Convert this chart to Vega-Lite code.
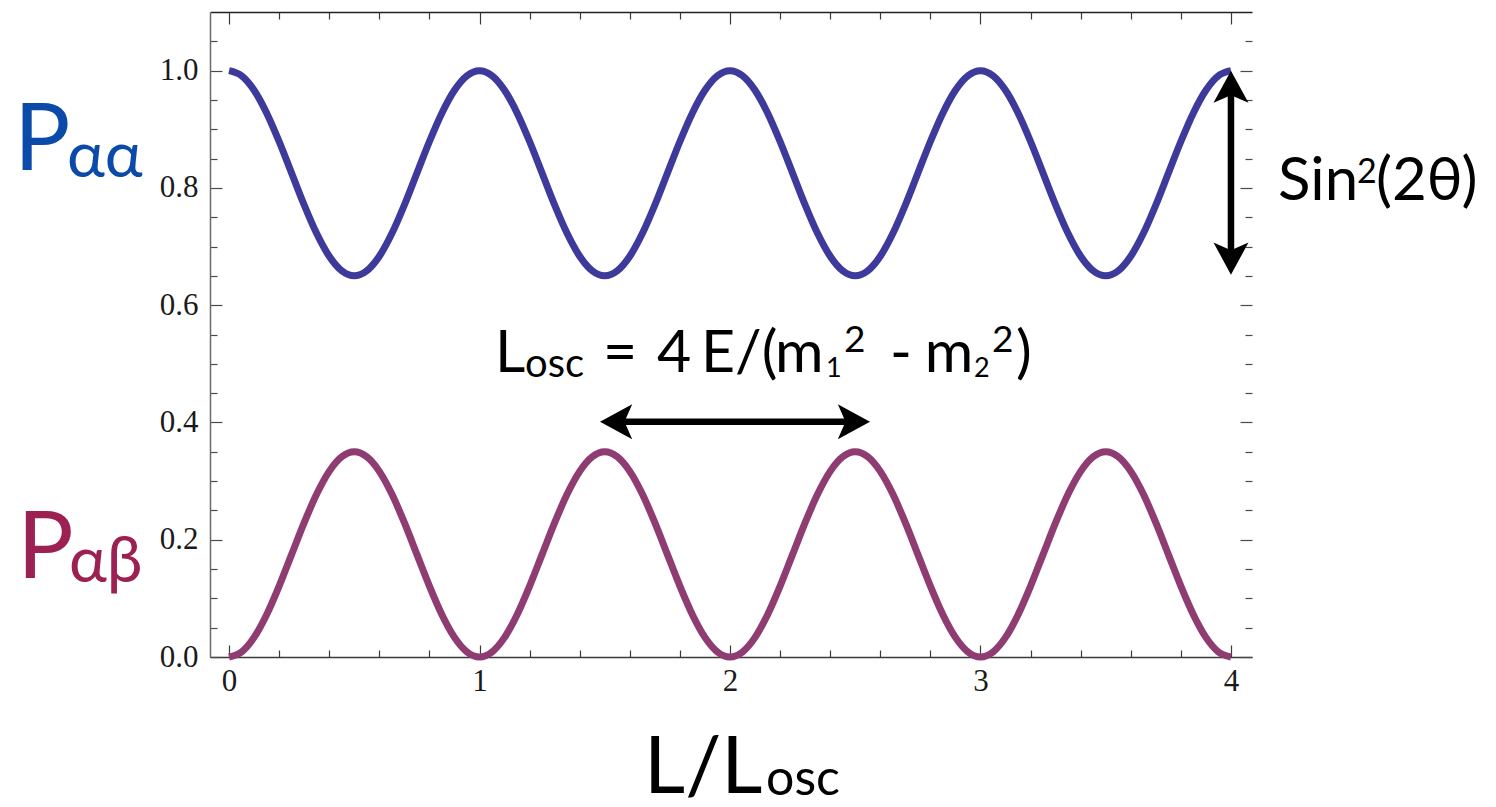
{
  "$schema": "https://vega.github.io/schema/vega-lite/v6.json",
  "width": 1042,
  "height": 645,
  "autosize": {"type": "none"},
  "padding": {"left": 210, "top": 12, "right": 244, "bottom": 150},
  "background": "white",
  "config": {"view": {"stroke": null}},
  "datasets": {
    "curve": [
      {"x": 0, "pab": 0, "paa": 1},
      {"x": 0.05, "pab": 0.0086, "paa": 0.9914},
      {"x": 0.1, "pab": 0.0334, "paa": 0.9666},
      {"x": 0.15, "pab": 0.0721, "paa": 0.9279},
      {"x": 0.2, "pab": 0.1209, "paa": 0.8791},
      {"x": 0.25, "pab": 0.175, "paa": 0.825},
      {"x": 0.3, "pab": 0.2291, "paa": 0.7709},
      {"x": 0.35, "pab": 0.2779, "paa": 0.7221},
      {"x": 0.4, "pab": 0.3166, "paa": 0.6834},
      {"x": 0.45, "pab": 0.3414, "paa": 0.6586},
      {"x": 0.5, "pab": 0.35, "paa": 0.65},
      {"x": 0.55, "pab": 0.3414, "paa": 0.6586},
      {"x": 0.6, "pab": 0.3166, "paa": 0.6834},
      {"x": 0.65, "pab": 0.2779, "paa": 0.7221},
      {"x": 0.7, "pab": 0.2291, "paa": 0.7709},
      {"x": 0.75, "pab": 0.175, "paa": 0.825},
      {"x": 0.8, "pab": 0.1209, "paa": 0.8791},
      {"x": 0.85, "pab": 0.0721, "paa": 0.9279},
      {"x": 0.9, "pab": 0.0334, "paa": 0.9666},
      {"x": 0.95, "pab": 0.0086, "paa": 0.9914},
      {"x": 1, "pab": 0, "paa": 1},
      {"x": 1.05, "pab": 0.0086, "paa": 0.9914},
      {"x": 1.1, "pab": 0.0334, "paa": 0.9666},
      {"x": 1.15, "pab": 0.0721, "paa": 0.9279},
      {"x": 1.2, "pab": 0.1209, "paa": 0.8791},
      {"x": 1.25, "pab": 0.175, "paa": 0.825},
      {"x": 1.3, "pab": 0.2291, "paa": 0.7709},
      {"x": 1.35, "pab": 0.2779, "paa": 0.7221},
      {"x": 1.4, "pab": 0.3166, "paa": 0.6834},
      {"x": 1.45, "pab": 0.3414, "paa": 0.6586},
      {"x": 1.5, "pab": 0.35, "paa": 0.65},
      {"x": 1.55, "pab": 0.3414, "paa": 0.6586},
      {"x": 1.6, "pab": 0.3166, "paa": 0.6834},
      {"x": 1.65, "pab": 0.2779, "paa": 0.7221},
      {"x": 1.7, "pab": 0.2291, "paa": 0.7709},
      {"x": 1.75, "pab": 0.175, "paa": 0.825},
      {"x": 1.8, "pab": 0.1209, "paa": 0.8791},
      {"x": 1.85, "pab": 0.0721, "paa": 0.9279},
      {"x": 1.9, "pab": 0.0334, "paa": 0.9666},
      {"x": 1.95, "pab": 0.0086, "paa": 0.9914},
      {"x": 2, "pab": 0, "paa": 1},
      {"x": 2.05, "pab": 0.0086, "paa": 0.9914},
      {"x": 2.1, "pab": 0.0334, "paa": 0.9666},
      {"x": 2.15, "pab": 0.0721, "paa": 0.9279},
      {"x": 2.2, "pab": 0.1209, "paa": 0.8791},
      {"x": 2.25, "pab": 0.175, "paa": 0.825},
      {"x": 2.3, "pab": 0.2291, "paa": 0.7709},
      {"x": 2.35, "pab": 0.2779, "paa": 0.7221},
      {"x": 2.4, "pab": 0.3166, "paa": 0.6834},
      {"x": 2.45, "pab": 0.3414, "paa": 0.6586},
      {"x": 2.5, "pab": 0.35, "paa": 0.65},
      {"x": 2.55, "pab": 0.3414, "paa": 0.6586},
      {"x": 2.6, "pab": 0.3166, "paa": 0.6834},
      {"x": 2.65, "pab": 0.2779, "paa": 0.7221},
      {"x": 2.7, "pab": 0.2291, "paa": 0.7709},
      {"x": 2.75, "pab": 0.175, "paa": 0.825},
      {"x": 2.8, "pab": 0.1209, "paa": 0.8791},
      {"x": 2.85, "pab": 0.0721, "paa": 0.9279},
      {"x": 2.9, "pab": 0.0334, "paa": 0.9666},
      {"x": 2.95, "pab": 0.0086, "paa": 0.9914},
      {"x": 3, "pab": 0, "paa": 1},
      {"x": 3.05, "pab": 0.0086, "paa": 0.9914},
      {"x": 3.1, "pab": 0.0334, "paa": 0.9666},
      {"x": 3.15, "pab": 0.0721, "paa": 0.9279},
      {"x": 3.2, "pab": 0.1209, "paa": 0.8791},
      {"x": 3.25, "pab": 0.175, "paa": 0.825},
      {"x": 3.3, "pab": 0.2291, "paa": 0.7709},
      {"x": 3.35, "pab": 0.2779, "paa": 0.7221},
      {"x": 3.4, "pab": 0.3166, "paa": 0.6834},
      {"x": 3.45, "pab": 0.3414, "paa": 0.6586},
      {"x": 3.5, "pab": 0.35, "paa": 0.65},
      {"x": 3.55, "pab": 0.3414, "paa": 0.6586},
      {"x": 3.6, "pab": 0.3166, "paa": 0.6834},
      {"x": 3.65, "pab": 0.2779, "paa": 0.7221},
      {"x": 3.7, "pab": 0.2291, "paa": 0.7709},
      {"x": 3.75, "pab": 0.175, "paa": 0.825},
      {"x": 3.8, "pab": 0.1209, "paa": 0.8791},
      {"x": 3.85, "pab": 0.0721, "paa": 0.9279},
      {"x": 3.9, "pab": 0.0334, "paa": 0.9666},
      {"x": 3.95, "pab": 0.0086, "paa": 0.9914},
      {"x": 4, "pab": 0, "paa": 1}
    ],
    "labels": [
      {"text": "P", "x": -0.858, "y": 0.831, "role": "paaBig"},
      {"text": "αα", "x": -0.647, "y": 0.819, "role": "paaSub"},
      {"text": "P", "x": -0.846, "y": 0.1348, "role": "pabBig"},
      {"text": "αβ", "x": -0.639, "y": 0.128, "role": "pabSub"},
      {"text": "Sin", "x": 4.188, "y": 0.7799, "role": "sinMain"},
      {"text": "2", "x": 4.503, "y": 0.8089, "role": "annSupSmall"},
      {"text": "(2θ)", "x": 4.579, "y": 0.7799, "role": "sinMain"},
      {"text": "L", "x": 1.062, "y": 0.4863, "role": "annMain"},
      {"text": "osc", "x": 1.182, "y": 0.4778, "role": "annOsc"},
      {"text": "=", "x": 1.493, "y": 0.4863, "role": "annMain"},
      {"text": "4", "x": 1.709, "y": 0.4863, "role": "annMain"},
      {"text": "E/(", "x": 1.884, "y": 0.4863, "role": "annMain"},
      {"text": "m", "x": 2.18, "y": 0.4863, "role": "annMain"},
      {"text": "1", "x": 2.383, "y": 0.4778, "role": "annSub"},
      {"text": "2", "x": 2.455, "y": 0.5205, "role": "annSup"},
      {"text": "-", "x": 2.639, "y": 0.4863, "role": "annMain"},
      {"text": "m", "x": 2.778, "y": 0.4863, "role": "annMain"},
      {"text": "2", "x": 2.974, "y": 0.4778, "role": "annSub"},
      {"text": "2", "x": 3.046, "y": 0.5205, "role": "annSup"},
      {"text": ")", "x": 3.142, "y": 0.4863, "role": "annMain"},
      {"text": "L/L", "x": 1.657, "y": -0.232, "role": "axisBig"},
      {"text": "osc", "x": 2.144, "y": -0.2355, "role": "axisOsc"}
    ],
    "shafts": [
      {"x": 4, "y": 0.959, "x2": 4, "y2": 0.693},
      {"x": 1.577, "y": 0.401, "x2": 2.463, "y2": 0.401}
    ],
    "heads": [
      {"x": 4, "y": 1.0, "dir": "up"},
      {"x": 4, "y": 0.652, "dir": "down"},
      {"x": 1.481, "y": 0.401, "dir": "left"},
      {"x": 2.559, "y": 0.401, "dir": "right"}
    ]
  },
  "resolve": {"axis": {"x": "independent", "y": "independent"}},
  "layer": [
    {
      "data": {"name": "curve"},
      "mark": {"type": "line", "interpolate": "monotone", "strokeWidth": 7, "color": "#8f3c72"},
      "encoding": {
        "x": {"field": "x", "type": "quantitative",
          "scale": {"domain": [-0.076, 4.084], "nice": false, "zero": false},
          "axis": {"orient": "bottom", "title": null, "grid": false,
            "values": [0, 0.2, 0.4, 0.6, 0.8, 1, 1.2, 1.4, 1.6, 1.8, 2, 2.2, 2.4, 2.6, 2.8, 3, 3.2, 3.4, 3.6, 3.8, 4],
            "domainColor": "#3a3a3a", "domainWidth": 1.5,
            "tickColor": "#3a3a3a", "tickWidth": 1.2,
            "tickSize": {"condition": {"test": "datum.value % 1 === 0", "value": -12}, "value": -7},
            "labelExpr": "datum.value % 1 === 0 ? format(datum.value, 'd') : ''",
            "labelFont": "Liberation Serif", "labelFontSize": 31, "labelColor": "#1a1a1a",
            "labelPadding": 21, "labelOverlap": false, "labelFlush": false, "labelBound": false}},
        "y": {"field": "pab", "type": "quantitative",
          "scale": {"domain": [0, 1.1], "nice": false, "zero": false},
          "axis": {"orient": "left", "title": null, "grid": false,
            "values": [0, 0.05, 0.1, 0.15, 0.2, 0.25, 0.3, 0.35, 0.4, 0.45, 0.5, 0.55, 0.6, 0.65, 0.7, 0.75, 0.8, 0.85, 0.9, 0.95, 1, 1.05],
            "domainColor": "#6a6a6a", "domainWidth": 1.5,
            "tickColor": "#4a4a4a", "tickWidth": 1.2,
            "tickSize": {"condition": {"test": "abs(datum.value * 5 - round(datum.value * 5)) < 1e-6", "value": -12}, "value": -7},
            "labelExpr": "abs(datum.value * 5 - round(datum.value * 5)) < 1e-6 ? format(datum.value, '.1f') : ''",
            "labelFont": "Liberation Serif", "labelFontSize": 31, "labelColor": "#1a1a1a",
            "labelPadding": 24, "labelOverlap": false, "labelFlush": false, "labelBound": false}}
      }
    },
    {
      "data": {"name": "curve"},
      "mark": {"type": "line", "interpolate": "monotone", "strokeWidth": 7, "color": "#3d3a9c"},
      "encoding": {
        "x": {"field": "x", "type": "quantitative",
          "scale": {"domain": [-0.076, 4.084], "nice": false, "zero": false},
          "axis": {"orient": "top", "title": null, "grid": false, "labels": false,
            "values": [0, 0.2, 0.4, 0.6, 0.8, 1, 1.2, 1.4, 1.6, 1.8, 2, 2.2, 2.4, 2.6, 2.8, 3, 3.2, 3.4, 3.6, 3.8, 4],
            "domainColor": "#222222", "domainWidth": 1.5,
            "tickColor": "#3a3a3a", "tickWidth": 1.2,
            "tickSize": {"condition": {"test": "datum.value % 1 === 0", "value": -12}, "value": -7}}},
        "y": {"field": "paa", "type": "quantitative",
          "scale": {"domain": [0, 1.1], "nice": false, "zero": false},
          "axis": {"orient": "right", "title": null, "grid": false, "labels": false, "domain": false,
            "values": [0, 0.05, 0.1, 0.15, 0.2, 0.25, 0.3, 0.35, 0.4, 0.45, 0.5, 0.55, 0.6, 0.65, 0.7, 0.75, 0.8, 0.85, 0.9, 0.95, 1, 1.05],
            "tickColor": "#4a4a4a", "tickWidth": 1.2,
            "tickSize": {"condition": {"test": "abs(datum.value * 5 - round(datum.value * 5)) < 1e-6", "value": -12}, "value": -7}}}
      }
    },
    {
      "data": {"name": "shafts"},
      "mark": {"type": "rule", "strokeWidth": 6.5, "color": "black"},
      "encoding": {
        "x": {"field": "x", "type": "quantitative", "scale": {"domain": [-0.076, 4.084], "nice": false, "zero": false}, "axis": null},
        "y": {"field": "y", "type": "quantitative", "scale": {"domain": [0, 1.1], "nice": false, "zero": false}, "axis": null},
        "x2": {"field": "x2"},
        "y2": {"field": "y2"}
      }
    },
    {
      "data": {"name": "heads"},
      "transform": [{"filter": "datum.dir === 'up'"}],
      "mark": {"type": "point", "filled": true, "color": "black", "opacity": 1, "size": 4900, "shape": "M0,0 L0.5,0.92 L0,0.7 L-0.5,0.92 Z"},
      "encoding": {
        "x": {"field": "x", "type": "quantitative", "scale": {"domain": [-0.076, 4.084], "nice": false, "zero": false}, "axis": null},
        "y": {"field": "y", "type": "quantitative", "scale": {"domain": [0, 1.1], "nice": false, "zero": false}, "axis": null}
      }
    },
    {
      "data": {"name": "heads"},
      "transform": [{"filter": "datum.dir === 'down'"}],
      "mark": {"type": "point", "filled": true, "color": "black", "opacity": 1, "size": 4900, "shape": "M0,0 L0.5,-0.92 L0,-0.7 L-0.5,-0.92 Z"},
      "encoding": {
        "x": {"field": "x", "type": "quantitative", "scale": {"domain": [-0.076, 4.084], "nice": false, "zero": false}, "axis": null},
        "y": {"field": "y", "type": "quantitative", "scale": {"domain": [0, 1.1], "nice": false, "zero": false}, "axis": null}
      }
    },
    {
      "data": {"name": "heads"},
      "transform": [{"filter": "datum.dir === 'left'"}],
      "mark": {"type": "point", "filled": true, "color": "black", "opacity": 1, "size": 4900, "shape": "M0,0 L0.92,-0.5 L0.7,0 L0.92,0.5 Z"},
      "encoding": {
        "x": {"field": "x", "type": "quantitative", "scale": {"domain": [-0.076, 4.084], "nice": false, "zero": false}, "axis": null},
        "y": {"field": "y", "type": "quantitative", "scale": {"domain": [0, 1.1], "nice": false, "zero": false}, "axis": null}
      }
    },
    {
      "data": {"name": "heads"},
      "transform": [{"filter": "datum.dir === 'right'"}],
      "mark": {"type": "point", "filled": true, "color": "black", "opacity": 1, "size": 4900, "shape": "M0,0 L-0.92,-0.5 L-0.7,0 L-0.92,0.5 Z"},
      "encoding": {
        "x": {"field": "x", "type": "quantitative", "scale": {"domain": [-0.076, 4.084], "nice": false, "zero": false}, "axis": null},
        "y": {"field": "y", "type": "quantitative", "scale": {"domain": [0, 1.1], "nice": false, "zero": false}, "axis": null}
      }
    },
    {
      "data": {"name": "labels"},
      "transform": [{"filter": "datum.role === 'paaBig'"}],
      "mark": {"type": "text", "align": "left", "baseline": "alphabetic", "font": "Lato", "fontSize": 94, "color": "#0b4aa8"},
      "encoding": {
        "x": {"field": "x", "type": "quantitative", "scale": {"domain": [-0.076, 4.084], "nice": false, "zero": false}, "axis": null},
        "y": {"field": "y", "type": "quantitative", "scale": {"domain": [0, 1.1], "nice": false, "zero": false}, "axis": null},
        "text": {"field": "text"}
      }
    },
    {
      "data": {"name": "labels"},
      "transform": [{"filter": "datum.role === 'paaSub'"}],
      "mark": {"type": "text", "align": "left", "baseline": "alphabetic", "font": "Lato", "fontSize": 64, "color": "#0b4aa8"},
      "encoding": {
        "x": {"field": "x", "type": "quantitative", "scale": {"domain": [-0.076, 4.084], "nice": false, "zero": false}, "axis": null},
        "y": {"field": "y", "type": "quantitative", "scale": {"domain": [0, 1.1], "nice": false, "zero": false}, "axis": null},
        "text": {"field": "text"}
      }
    },
    {
      "data": {"name": "labels"},
      "transform": [{"filter": "datum.role === 'pabBig'"}],
      "mark": {"type": "text", "align": "left", "baseline": "alphabetic", "font": "Lato", "fontSize": 94, "color": "#9c2152"},
      "encoding": {
        "x": {"field": "x", "type": "quantitative", "scale": {"domain": [-0.076, 4.084], "nice": false, "zero": false}, "axis": null},
        "y": {"field": "y", "type": "quantitative", "scale": {"domain": [0, 1.1], "nice": false, "zero": false}, "axis": null},
        "text": {"field": "text"}
      }
    },
    {
      "data": {"name": "labels"},
      "transform": [{"filter": "datum.role === 'pabSub'"}],
      "mark": {"type": "text", "align": "left", "baseline": "alphabetic", "font": "Lato", "fontSize": 64, "color": "#9c2152"},
      "encoding": {
        "x": {"field": "x", "type": "quantitative", "scale": {"domain": [-0.076, 4.084], "nice": false, "zero": false}, "axis": null},
        "y": {"field": "y", "type": "quantitative", "scale": {"domain": [0, 1.1], "nice": false, "zero": false}, "axis": null},
        "text": {"field": "text"}
      }
    },
    {
      "data": {"name": "labels"},
      "transform": [{"filter": "datum.role === 'sinMain'"}],
      "mark": {"type": "text", "align": "left", "baseline": "alphabetic", "font": "Lato", "fontSize": 60, "color": "black"},
      "encoding": {
        "x": {"field": "x", "type": "quantitative", "scale": {"domain": [-0.076, 4.084], "nice": false, "zero": false}, "axis": null},
        "y": {"field": "y", "type": "quantitative", "scale": {"domain": [0, 1.1], "nice": false, "zero": false}, "axis": null},
        "text": {"field": "text"}
      }
    },
    {
      "data": {"name": "labels"},
      "transform": [{"filter": "datum.role === 'annMain'"}],
      "mark": {"type": "text", "align": "left", "baseline": "alphabetic", "font": "Lato", "fontSize": 59, "color": "black"},
      "encoding": {
        "x": {"field": "x", "type": "quantitative", "scale": {"domain": [-0.076, 4.084], "nice": false, "zero": false}, "axis": null},
        "y": {"field": "y", "type": "quantitative", "scale": {"domain": [0, 1.1], "nice": false, "zero": false}, "axis": null},
        "text": {"field": "text"}
      }
    },
    {
      "data": {"name": "labels"},
      "transform": [{"filter": "datum.role === 'annSup'"}],
      "mark": {"type": "text", "align": "left", "baseline": "alphabetic", "font": "Lato", "fontSize": 37, "color": "black"},
      "encoding": {
        "x": {"field": "x", "type": "quantitative", "scale": {"domain": [-0.076, 4.084], "nice": false, "zero": false}, "axis": null},
        "y": {"field": "y", "type": "quantitative", "scale": {"domain": [0, 1.1], "nice": false, "zero": false}, "axis": null},
        "text": {"field": "text"}
      }
    },
    {
      "data": {"name": "labels"},
      "transform": [{"filter": "datum.role === 'annSupSmall'"}],
      "mark": {"type": "text", "align": "left", "baseline": "alphabetic", "font": "Lato", "fontSize": 34, "color": "black"},
      "encoding": {
        "x": {"field": "x", "type": "quantitative", "scale": {"domain": [-0.076, 4.084], "nice": false, "zero": false}, "axis": null},
        "y": {"field": "y", "type": "quantitative", "scale": {"domain": [0, 1.1], "nice": false, "zero": false}, "axis": null},
        "text": {"field": "text"}
      }
    },
    {
      "data": {"name": "labels"},
      "transform": [{"filter": "datum.role === 'annSub'"}],
      "mark": {"type": "text", "align": "left", "baseline": "alphabetic", "font": "Lato", "fontSize": 27, "color": "black"},
      "encoding": {
        "x": {"field": "x", "type": "quantitative", "scale": {"domain": [-0.076, 4.084], "nice": false, "zero": false}, "axis": null},
        "y": {"field": "y", "type": "quantitative", "scale": {"domain": [0, 1.1], "nice": false, "zero": false}, "axis": null},
        "text": {"field": "text"}
      }
    },
    {
      "data": {"name": "labels"},
      "transform": [{"filter": "datum.role === 'annOsc'"}],
      "mark": {"type": "text", "align": "left", "baseline": "alphabetic", "font": "Lato", "fontSize": 40, "color": "black"},
      "encoding": {
        "x": {"field": "x", "type": "quantitative", "scale": {"domain": [-0.076, 4.084], "nice": false, "zero": false}, "axis": null},
        "y": {"field": "y", "type": "quantitative", "scale": {"domain": [0, 1.1], "nice": false, "zero": false}, "axis": null},
        "text": {"field": "text"}
      }
    },
    {
      "data": {"name": "labels"},
      "transform": [{"filter": "datum.role === 'axisBig'"}],
      "mark": {"type": "text", "align": "left", "baseline": "alphabetic", "font": "Lato", "fontSize": 80, "color": "black"},
      "encoding": {
        "x": {"field": "x", "type": "quantitative", "scale": {"domain": [-0.076, 4.084], "nice": false, "zero": false}, "axis": null},
        "y": {"field": "y", "type": "quantitative", "scale": {"domain": [0, 1.1], "nice": false, "zero": false}, "axis": null},
        "text": {"field": "text"}
      }
    },
    {
      "data": {"name": "labels"},
      "transform": [{"filter": "datum.role === 'axisOsc'"}],
      "mark": {"type": "text", "align": "left", "baseline": "alphabetic", "font": "Lato", "fontSize": 50, "color": "black"},
      "encoding": {
        "x": {"field": "x", "type": "quantitative", "scale": {"domain": [-0.076, 4.084], "nice": false, "zero": false}, "axis": null},
        "y": {"field": "y", "type": "quantitative", "scale": {"domain": [0, 1.1], "nice": false, "zero": false}, "axis": null},
        "text": {"field": "text"}
      }
    }
  ]
}
